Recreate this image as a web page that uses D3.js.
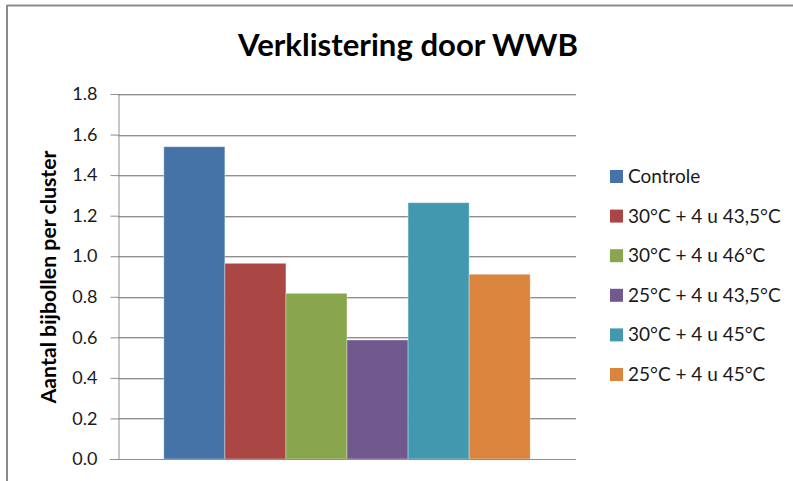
<!DOCTYPE html>
<html>
<head>
<meta charset="utf-8">
<script src="https://cdn.jsdelivr.net/npm/d3@7"></script>
<style>
	body { margin: 0; background: #fff; }
	svg { display: block; font-family: Lato, "Open Sans", sans-serif; }
</style>
</head>
<body>
<div id="chart-area"></div>
<script>
/* data */
const categories = [
	'Controle',
	'30°C + 4 u 43,5°C',
	'30°C + 4 u 46°C',
	'25°C + 4 u 43,5°C',
	'30°C + 4 u 45°C',
	'25°C + 4 u 45°C'
]
const values = [1.54, 0.965, 0.817, 0.587, 1.264, 0.911]
const yTicks = [0, 0.2, 0.4, 0.6, 0.8, 1.0, 1.2, 1.4, 1.6, 1.8]
const palette = ['#4572A7', '#AA4643', '#89A54E', '#71588F', '#4198AF', '#DB843D']

const titleText = 'Verklistering door WWB'
const yLabelText = 'Aantal bijbollen per cluster'

/* canvas */
const CANVAS_WIDTH = 793
const CANVAS_HEIGHT = 481
const plot = { left: 118, right: 576, top: 94, bottom: 459 }

const $svg = d3.select('#chart-area')
	.append('svg')
	.attr('width', CANVAS_WIDTH)
	.attr('height', CANVAS_HEIGHT)

// scale a text's font so it spans roughly the width seen in the original
function fitText($text, target) {
	const len = $text.node().getComputedTextLength()
	const size = +$text.attr('font-size')
	if (len > 0) $text.attr('font-size', size * target / len)
}

// frame around the chart object (cut off on the right and bottom)
$svg.append('line')
	.attr('x1', 7).attr('x2', CANVAS_WIDTH).attr('y1', 5.5).attr('y2', 5.5)
	.attr('stroke', '#8a8a8a').attr('stroke-width', 2)
$svg.append('line')
	.attr('x1', 7).attr('x2', 7).attr('y1', 5).attr('y2', CANVAS_HEIGHT)
	.attr('stroke', '#8a8a8a').attr('stroke-width', 2)

/* scales */
const xScale = d3.scaleBand()
	.domain(categories)
	.range([plot.left, plot.right])
	.paddingInner(0)
	.paddingOuter(0.75)

const yScale = d3.scaleLinear()
	.domain([0, 1.8])
	.range([plot.bottom, plot.top])

const color = d3.scaleOrdinal()
	.domain(categories)
	.range(palette)

/* gridlines */
const $grid = $svg.append('g')
$grid.selectAll('line.shade')
	.data(yTicks.filter(d => d > 0))
	.join('line')
	.attr('class', 'shade')
	.attr('x1', plot.left).attr('x2', plot.right)
	.attr('y1', d => Math.round(yScale(d)) + 1.5)
	.attr('y2', d => Math.round(yScale(d)) + 1.5)
	.attr('stroke', '#d4d4d4')
$grid.selectAll('line.major')
	.data(yTicks.filter(d => d > 0))
	.join('line')
	.attr('class', 'major')
	.attr('x1', plot.left).attr('x2', plot.right)
	.attr('y1', d => Math.round(yScale(d)) + 0.5)
	.attr('y2', d => Math.round(yScale(d)) + 0.5)
	.attr('stroke', '#8f8f8f')

/* bars */
$svg.append('g')
	.selectAll('rect')
	.data(values)
	.join('rect')
	.attr('x', (d, i) => xScale(categories[i]))
	.attr('y', d => yScale(d))
	.attr('width', xScale.bandwidth())
	.attr('height', d => plot.bottom - yScale(d))
	.attr('fill', (d, i) => color(categories[i]))
	.attr('stroke', 'rgba(255,255,255,0.35)')
	.attr('stroke-width', 1)

/* axes */
const yAxisCall = d3.axisLeft(yScale)
	.tickValues(yTicks)
	.tickFormat(d3.format('.1f'))
	.tickSize(8)
	.tickPadding(13)

const $yAxis = $svg.append('g')
	.attr('transform', `translate(${plot.left + 0.5}, 0)`)
	.call(yAxisCall)
$yAxis.select('.domain').attr('stroke', '#8f8f8f')
$yAxis.selectAll('.tick line').attr('stroke', '#8f8f8f')
$yAxis.selectAll('.tick text')
	.attr('font-size', 18)
	.attr('font-family', 'Lato, sans-serif')
	.attr('fill', '#1a1a1a')

// x axis baseline
$svg.append('line')
	.attr('x1', plot.left - 8).attr('x2', plot.right)
	.attr('y1', plot.bottom + 0.5).attr('y2', plot.bottom + 0.5)
	.attr('stroke', '#8f8f8f')

/* labels */
const $title = $svg.append('text')
	.attr('x', 408)
	.attr('y', 56)
	.attr('text-anchor', 'middle')
	.attr('font-size', 28)
	.attr('font-weight', 'bold')
	.attr('fill', '#000')
	.text(titleText)
fitText($title, 340)

const $yLabel = $svg.append('text')
	.attr('transform', `translate(56, 277) rotate(-90)`)
	.attr('text-anchor', 'middle')
	.attr('font-size', 16)
	.attr('font-weight', 'bold')
	.attr('fill', '#000')
	.text(yLabelText)
fitText($yLabel, 253)

/* legend */
const $legend = $svg.append('g')
	.attr('transform', 'translate(610, 170)')

categories.forEach((cat, i) => {
	const $row = $legend.append('g')
		.attr('transform', `translate(0, ${i * 39.6})`)
	$row.append('rect')
		.attr('width', 13)
		.attr('height', 13)
		.attr('fill', color(cat))
	$row.append('text')
		.attr('x', 18)
		.attr('y', 13)
		.attr('font-size', 19)
		.attr('fill', '#1a1a1a')
		.text(cat)
})
</script>
</body>
</html>
